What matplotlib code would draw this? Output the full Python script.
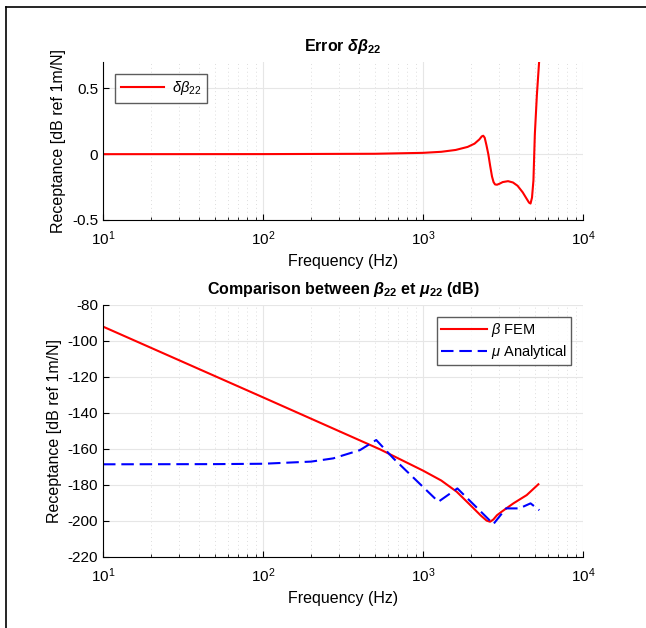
import numpy as np
import matplotlib.pyplot as plt
from matplotlib.lines import Line2D

plt.rcParams['font.family'] = ['Liberation Sans', 'DejaVu Sans']
plt.rcParams['mathtext.fontset'] = 'custom'
plt.rcParams['mathtext.rm'] = 'Liberation Sans'
plt.rcParams['mathtext.it'] = 'Liberation Sans:italic'
plt.rcParams['mathtext.bf'] = 'Liberation Sans:bold'
plt.rcParams['mathtext.bfit'] = 'Liberation Sans:italic:bold'

# erreur delta beta_22
f_err = [10, 100, 500, 1000, 1300, 1600, 1900, 2100, 2250, 2330, 2380, 2430, 2490,
         2560, 2630, 2700, 2760, 2820, 2900, 3000, 3150, 3400, 3650, 3900, 4200,
         4450, 4600, 4700, 4800, 4900, 5000, 5150, 5330]
d_err = [0, 0.0005, 0.003, 0.01, 0.018, 0.032, 0.055, 0.08, 0.112, 0.135, 0.14, 0.125, 0.07,
         0.0, -0.09, -0.17, -0.212, -0.23, -0.232, -0.225, -0.212, -0.205, -0.215, -0.24, -0.29,
         -0.34, -0.368, -0.375, -0.33, -0.2, 0.15, 0.45, 0.72]

# beta FEM
f_fem = [10, 100, 539, 1000, 1300, 1622, 1967, 2300, 2500, 2626, 2750, 2900, 3105, 3673, 4449, 5261]
b_fem = [-92, -131.3, -160.2, -172, -177.5, -183.7, -191, -197, -199.8, -200.4, -199.2, -196.8,
         -194.8, -190.2, -185.6, -179.6]

# mu analytique
f_ana = [10, 50, 100, 200, 275, 404, 510, 653, 1248, 1640, 2755, 3300, 4000, 4700, 5333]
m_ana = [-168.5, -168.4, -168.2, -167, -165.2, -160.6, -155, -165.2, -189.3, -181.9, -201.7,
         -193, -193, -190.2, -194]

fig = plt.figure(figsize=(6.46, 6.28), dpi=100)
fig.add_artist(Line2D([6/646, 6/646], [0, 1 - 7/628], color='black', lw=1.2))
fig.add_artist(Line2D([6/646, 1], [1 - 7/628, 1 - 7/628], color='black', lw=1.2))

ax1 = fig.add_axes([103/646, 1 - 220/628, 480/646, 158/628])
ax2 = fig.add_axes([103/646, 1 - 557/628, 480/646, 252/628])


def style(ax):
    ax.set_xscale('log')
    ax.set_xlim(10, 1e4)
    for s in ['top', 'right']:
        ax.spines[s].set_visible(False)
    ax.tick_params(direction='in', which='both', labelsize=11, length=4)
    ax.tick_params(axis='x', pad=7)
    ax.tick_params(which='minor', length=2.5)
    ax.grid(True, which='major', color='#e6e6e6', lw=0.8)
    ax.grid(True, which='minor', color='#dddddd', lw=0.7, ls=(0, (1, 3)))
    ax.set_axisbelow(True)
    ax.set_xlabel('Frequency (Hz)', fontsize=11.5)
    ax.set_ylabel('Receptance [dB ref 1m/N]', fontsize=11.5)


style(ax1)
ax1.plot(f_err, d_err, color='red', lw=1.5, label=r'$\delta\beta_{22}$')
ax1.set_ylim(-0.5, 0.7)
ax1.set_yticks([-0.5, 0, 0.5])
ax1.set_yticklabels(['-0.5', '0', '0.5'])
ax1.set_title(r'Error $\mathbfit{\delta\beta}_{\mathbf{22}}$', fontsize=11.5, fontweight='bold', pad=8)
ax1.legend(loc='upper left', fancybox=False, edgecolor='#333333', fontsize=10.5,
           handlelength=3.0, handletextpad=0.5, borderpad=0.4, borderaxespad=0.8)

style(ax2)
ax2.plot(f_fem, b_fem, color='red', lw=1.5, label=r'$\beta$ FEM')
ax2.plot(f_ana, m_ana, color='blue', lw=1.5, ls=(0, (6, 2.8)), label=r'$\mu$ Analytical')
ax2.set_ylim(-220, -80)
ax2.set_yticks(np.arange(-220, -79, 20))
ax2.set_yticklabels([str(v) for v in range(-220, -79, 20)])
ax2.set_title(r'Comparison between $\mathbfit{\beta}_{\mathbf{22}}$ et $\mathbfit{\mu}_{\mathbf{22}}$ (dB)',
              fontsize=11.5, fontweight='bold', pad=8)
ax2.legend(loc='upper right', fancybox=False, edgecolor='#333333', fontsize=10.5,
           handlelength=3.1, handletextpad=0.3, labelspacing=0.25, borderpad=0.3,
           borderaxespad=0.8)

fig.savefig('out.png', dpi=100)
